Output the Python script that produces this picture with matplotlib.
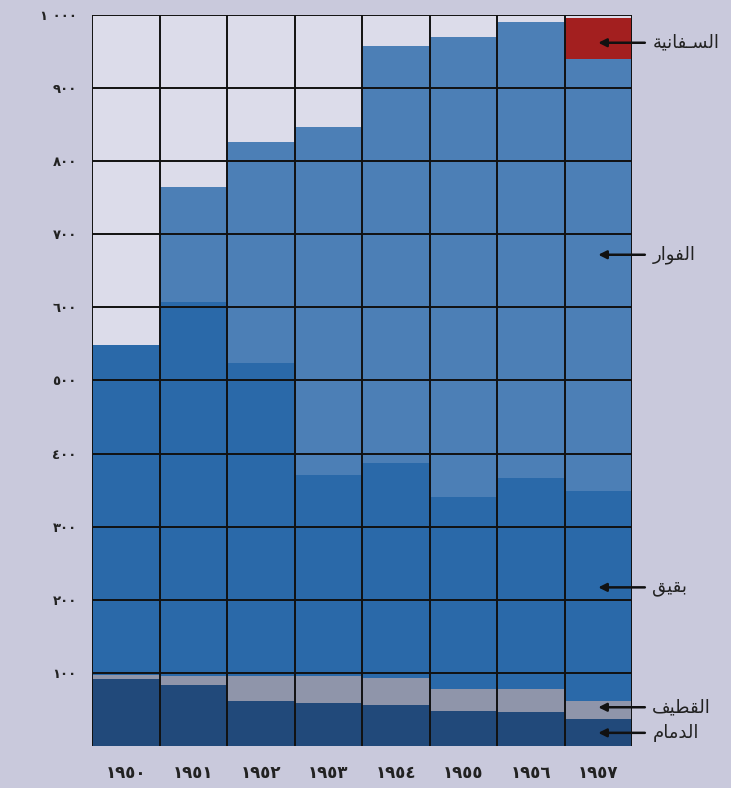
import numpy as np
import matplotlib
matplotlib.use("Agg")
import matplotlib.pyplot as plt

# years and y tick labels (Arabic-Indic digits)
years = ["١٩٥٠", "١٩٥١", "١٩٥٢", "١٩٥٣", "١٩٥٤", "١٩٥٥", "١٩٥٦", "١٩٥٧"]
ytick_vals = [100, 200, 300, 400, 500, 600, 700, 800, 900, 1000]
ytick_labels = ["١٠٠", "٢٠٠", "٣٠٠", "٤٠٠", "٥٠٠", "٦٠٠", "٧٠٠", "٨٠٠", "٩٠٠", "١ ٠٠٠"]

# production per field, bottom to top of each stack
dammam = [92, 83, 62, 59, 56, 48, 46, 37]
qatif = [5, 13, 34, 37, 37, 30, 32, 25]
abqaiq = [451, 511, 428, 275, 294, 262, 288, 287]
ghawar = [0, 158, 302, 476, 570, 630, 624, 591]
safaniya = [0, 0, 0, 0, 0, 0, 0, 56]

# field names, already shaped (presentation forms, visual order)
name_safaniya = "\ufe94\ufef4\ufee7\ufe8e\ufed4\u0640\ufeb4\ufedf\ufe8d"
name_ghawar = "\ufead\ufe8d\ufeee\ufed4\ufedf\ufe8d"
name_abqaiq = "\ufed6\ufef4\ufed8\ufe91"
name_qatif = "\ufed2\ufef4\ufec4\ufed8\ufedf\ufe8d"
name_dammam = "\ufee1\ufe8e\ufee3\ufeaa\ufedf\ufe8d"

# arrow targets (value on the y axis, inside the last bar)
label_y = [962, 672, 217, 53, 18]

bg = "#c9c9dc"
colors = ["#21497a", "#8f95aa", "#2a69a9", "#4c7fb6", "#a31f1f"]

fig = plt.figure(figsize=(7.31, 7.88), dpi=100, facecolor=bg)
ax = fig.add_axes([0.1259, 0.0533, 0.7387, 0.9277])
ax.set_facecolor("#dcdcea")

x = np.arange(len(years))
bottom = np.zeros(len(years))
for vals, c in zip([dammam, qatif, abqaiq, ghawar, safaniya], colors):
    ax.bar(x, vals, width=1.0, bottom=bottom, color=c, linewidth=0, zorder=1)
    bottom += np.array(vals)

ax.set_xlim(-0.5, len(years) - 0.5)
ax.set_ylim(0, 1000)

# black grid over the bars
for xv in np.arange(-0.5, len(years), 1.0):
    ax.axvline(xv, color="#111111", lw=1.4, zorder=3)
for yv in ytick_vals:
    ax.axhline(yv, color="#111111", lw=1.4, zorder=3)

for s in ax.spines.values():
    s.set_visible(False)

ax.set_xticks(x)
ax.set_xticklabels(years, fontsize=12, fontweight="bold", color="#222222")
ax.set_yticks(ytick_vals)
ax.set_yticklabels(ytick_labels, fontsize=9.5, fontweight="bold", color="#222222")
ax.tick_params(length=0)
ax.tick_params(axis="y", pad=11)
ax.tick_params(axis="x", pad=13)

names = [name_safaniya, name_ghawar, name_abqaiq, name_qatif, name_dammam]
for name, yv in zip(names, label_y):
    ax.annotate("", xy=(7.0, yv), xytext=(7.69, yv),
                arrowprops=dict(arrowstyle="-|>", color="#111111", lw=1.8,
                                mutation_scale=12, shrinkA=0, shrinkB=0),
                annotation_clip=False, zorder=5)
    ax.text(7.8, yv, name, fontsize=13, family="DejaVu Sans", color="#222222",
            ha="left", va="center", clip_on=False)

fig.savefig("out.png", dpi=100, facecolor=bg)
